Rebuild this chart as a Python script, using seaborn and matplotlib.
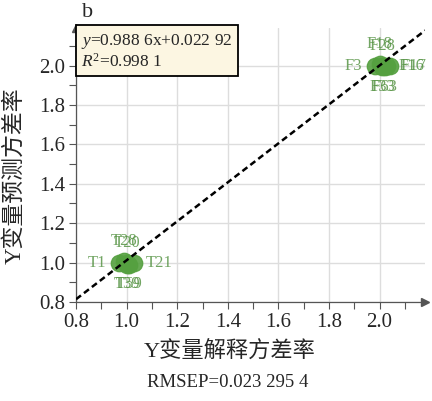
import matplotlib
matplotlib.use("Agg")
import matplotlib.pyplot as plt
import seaborn as sns
import pandas as pd
import numpy as np

# ---- data ----
labels = ["T1", "T28", "T20", "T39", "T59", "T21",
          "F3", "F18", "F28", "F33", "F63", "F16", "F17"]
x_vals = [0.97, 0.99, 1.00, 1.00, 1.01, 1.03,
          1.98, 2.00, 2.01, 2.01, 2.02, 2.03, 2.04]
y_vals = [1.00, 1.01, 1.00, 0.99, 0.99, 1.00,
          2.00, 2.01, 2.00, 1.99, 1.99, 2.00, 2.00]
label_side = ["left", "up", "up", "down", "down", "right",
              "left", "up", "up", "down", "down", "right", "right"]
slope, intercept = 0.9886, 0.02292
ticks = [0.8, 1.0, 1.2, 1.4, 1.6, 1.8, 2.0]
eq_text = "$y$=0.988 6x+0.022 92\n$R^2$=0.998 1"
rmsep_text = "RMSEP=0.023 295 4"

sns.set_theme(style="white")
plt.rcParams['font.family'] = ['Liberation Serif', 'Noto Sans CJK SC']
plt.rcParams['mathtext.fontset'] = 'custom'
plt.rcParams['mathtext.it'] = 'Liberation Serif:italic'
plt.rcParams['mathtext.rm'] = 'Liberation Serif'

fig = plt.figure(figsize=(4.32, 4.01), dpi=100)
ax = fig.add_axes([0.176, 0.247, 0.808, 0.683])

df = pd.DataFrame({"x": x_vals, "y": y_vals, "label": labels})
green = "#55a040"
sns.scatterplot(data=df, x="x", y="y", ax=ax, s=140, color=green,
                edgecolor=green, alpha=0.9, zorder=3, legend=False)

offsets = {"left": (-9, 0, "right", "center"), "right": (8, 0, "left", "center"),
           "up": (0, 8, "center", "bottom"), "down": (0, -8, "center", "top")}
for lx, ly, lb, side in zip(x_vals, y_vals, labels, label_side):
    dx, dy, ha, va = offsets[side]
    ax.annotate(lb, (lx, ly), xytext=(dx, dy), textcoords="offset points",
                ha=ha, va=va, color="#4f8f3c", fontsize=12, alpha=0.8, zorder=4)

xmin, xmax = 0.8, 2.18
ymin, ymax = 0.8, 2.19
xl = np.array([xmin, xmax])
ax.plot(xl, slope * xl + intercept, ls=(0, (2.5, 1.5)), color="black", lw=1.8, zorder=5)

ax.set_xlim(xmin, xmax)
ax.set_ylim(ymin, ymax)
ax.set_xticks(ticks)
ax.set_yticks(ticks)
ax.set_xticklabels([f"{t:.1f}" for t in ticks])
ax.set_yticklabels([f"{t:.1f}" for t in ticks])
ax.set_xticks(np.arange(0.9, 2.15, 0.2), minor=True)
ax.set_yticks(np.arange(0.9, 2.15, 0.2), minor=True)
ax.tick_params(axis="both", which="both", direction="out", length=5, width=0.8,
               color="#555555", labelsize=15, bottom=True, left=True, pad=3)
ax.grid(True, which="major", color="#dddddd", lw=1.0)
for s in ["top", "right"]:
    ax.spines[s].set_visible(False)
for s in ["left", "bottom"]:
    ax.spines[s].set_color("#555555")
    ax.spines[s].set_linewidth(0.9)
ax.plot(1, 0, ">", transform=ax.transAxes, color="#555555", ms=6, clip_on=False)
ax.plot(0, 1, "^", transform=ax.transAxes, color="#555555", ms=6, clip_on=False)

ax.set_xlabel("Y变量解释方差率", fontsize=16, labelpad=6)
ax.xaxis.set_label_coords(0.44, -0.14)
ax.set_ylabel("Y变量预测方差率", fontsize=16.5, labelpad=4)
ax.yaxis.set_label_coords(-0.145, 0.46)

ax.text(0.015, 0.985, eq_text, transform=ax.transAxes, ha="left", va="top",
        fontsize=12.5, linespacing=1.1, zorder=6,
        bbox=dict(boxstyle="square,pad=0.3", facecolor="#fcf6e2", edgecolor="black", lw=1.3))
fig.text(0.19, 0.97, "b", fontsize=16, ha="left", va="center")
fig.text(0.527, 0.045, rmsep_text, fontsize=13.5, ha="center", va="center")

fig.savefig("out.png", dpi=100)
